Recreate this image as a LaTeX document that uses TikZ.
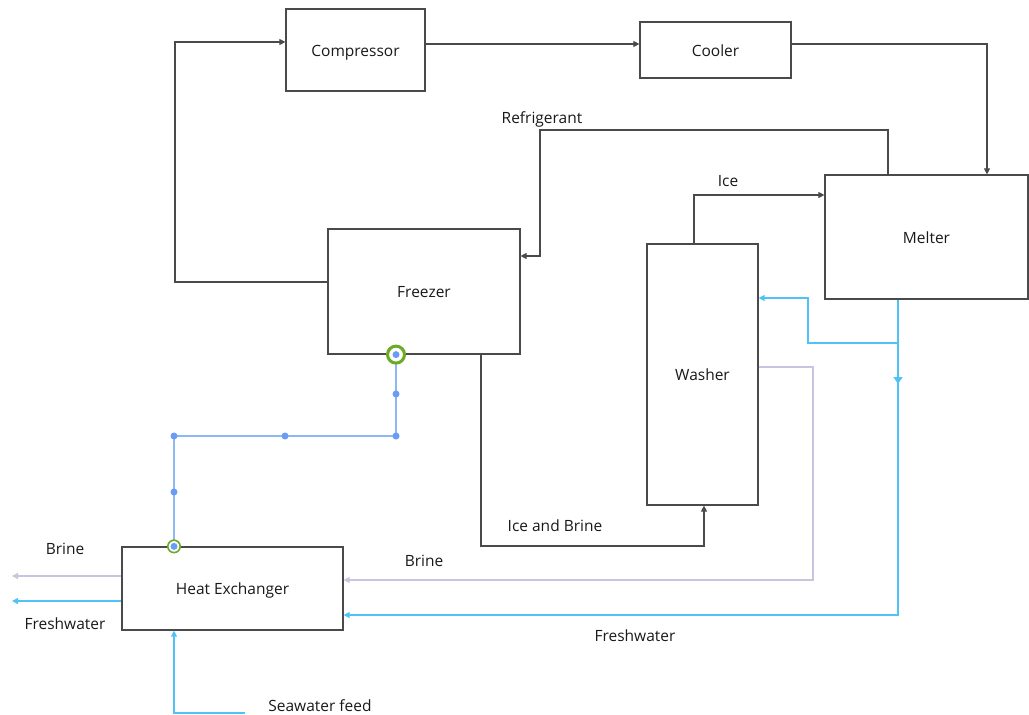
\documentclass[tikz,border=0pt]{standalone}
\usepackage{fontspec}
\setmainfont{Open Sans}
\usetikzlibrary{arrows.meta}
\definecolor{linegray}{HTML}{4A4A4A}
\definecolor{brinecol}{HTML}{CBC3DF}
\definecolor{watercol}{HTML}{4FC3F5}
\definecolor{selcol}{HTML}{8DB8F0}
\definecolor{handlecol}{HTML}{6A9BF5}
\definecolor{ringcol}{HTML}{6BAA22}
\tikzset{
  unit/.style={draw=linegray, line width=1.2pt, inner sep=0pt, fill=white,
    font=\fontsize{15.5}{18}\selectfont, text=black!90, text height=12.5pt, text depth=0pt},
  lbl/.style={inner sep=0pt, font=\fontsize{15.5}{18}\selectfont, text=black!90, yshift=-2pt},
  tip/.style={-{Triangle[length=6pt,width=6pt]}},
  flow/.style={draw=linegray, line width=1.1pt, tip},
  brineflow/.style={draw=brinecol, line width=1.3pt, tip},
  waterflow/.style={draw=watercol, line width=1.3pt, tip},
  selline/.style={draw=selcol, line width=1.3pt},
  handle/.style={circle, fill=handlecol, inner sep=0pt, minimum size=7pt},
}
\begin{document}
\begin{tikzpicture}[x=1pt, y=-1pt]
\useasboundingbox (0,0) rectangle (1029,715);

% process units
\node[unit, minimum width=139pt, minimum height=82pt]  (comp) at (355.5,50)  {Compressor};
\node[unit, minimum width=151pt, minimum height=56pt]  (cool) at (715.5,50)  {Cooler};
\node[unit, minimum width=203pt, minimum height=124pt] (melt) at (926.5,237) {Melter};
\node[unit, minimum width=192pt, minimum height=125pt] (frz)  at (424,291.5) {Freezer};
\node[unit, minimum width=111pt, minimum height=261pt] (wash) at (702.5,374.5) {Washer};
\node[unit, minimum width=221pt, minimum height=83pt]  (hx)   at (232.5,588.5) {Heat Exchanger};

% refrigerant loop
\draw[flow] (frz.west |- 0,282) -- (175,282) |- (comp.west |- 0,42);
\draw[flow] (comp.east |- 0,44) -- (cool.west |- 0,44);
\draw[flow] (cool.east |- 0,44) -| (987,0 |- melt.north);
\draw[flow] (888,0 |- melt.north) -- (888,130) -- (540,130) |- (frz.east |- 0,256);
\node[lbl] (lref) at (542,117) {Refrigerant};

% ice path
\draw[flow] (694,0 |- wash.north) |- (melt.west |- 0,195);
\node[lbl] (lice) at (728,179) {Ice};
\draw[flow] (481,0 |- frz.south) |- (704,546) -- (704,0 |- wash.south);
\node[lbl] (lib) at (555,524) {Ice and Brine};

% brine return
\draw[brineflow] (wash.east |- 0,367) -| (813,580) -- (hx.east |- 0,580);
\node[lbl] (lbr) at (424,559) {Brine};

% freshwater from melter
\coordinate (split) at (898,343);
\draw[waterflow] (898,0 |- melt.south) -- (898,615) -- (hx.east |- 0,615);
\draw[waterflow, -{Triangle[length=7pt,width=9pt]}] (898,0 |- melt.south) -- (898,384);
\draw[waterflow] (split) -| (808,298) -- (wash.east |- 0,298);
\node[lbl] (lfw) at (635,634) {Freshwater};

% heat exchanger outlets
\coordinate (bout) at (12,576);
\coordinate (wout) at (12,601);
\draw[brineflow] (hx.west |- 0,576) -- (bout);
\draw[waterflow] (hx.west |- 0,601) -- (wout);
\node[lbl] (lbo) at (65,547) {Brine};
\node[lbl] (lwo) at (65,622) {Freshwater};

% seawater feed
\coordinate (feed) at (245,713);
\draw[waterflow] (feed) -| (174,0 |- hx.south);
\node[lbl] (lsw) at (320,704) {Seawater feed};

% cold feed line from freezer to heat exchanger
\draw[selline] (396,0 |- frz.south) -- (396,436) -- (174,436) -- (174,0 |- hx.north);
\node[handle] (h1) at (396,394) {};
\node[handle] (h2) at (396,436) {};
\node[handle] (h3) at (285,436) {};
\node[handle] (h4) at (174,436) {};
\node[handle] (h5) at (174,492) {};
\draw[ringcol, line width=3pt, fill=white] (396,0 |- frz.south) circle (8.5pt);
\node[handle] (h0) at (396,0 |- frz.south) {};
\draw[ringcol, line width=1.6pt, fill=white] (174,0 |- hx.north) circle (6.2pt);
\node[handle] (h6) at (174,0 |- hx.north) {};
\end{tikzpicture}
\end{document}
